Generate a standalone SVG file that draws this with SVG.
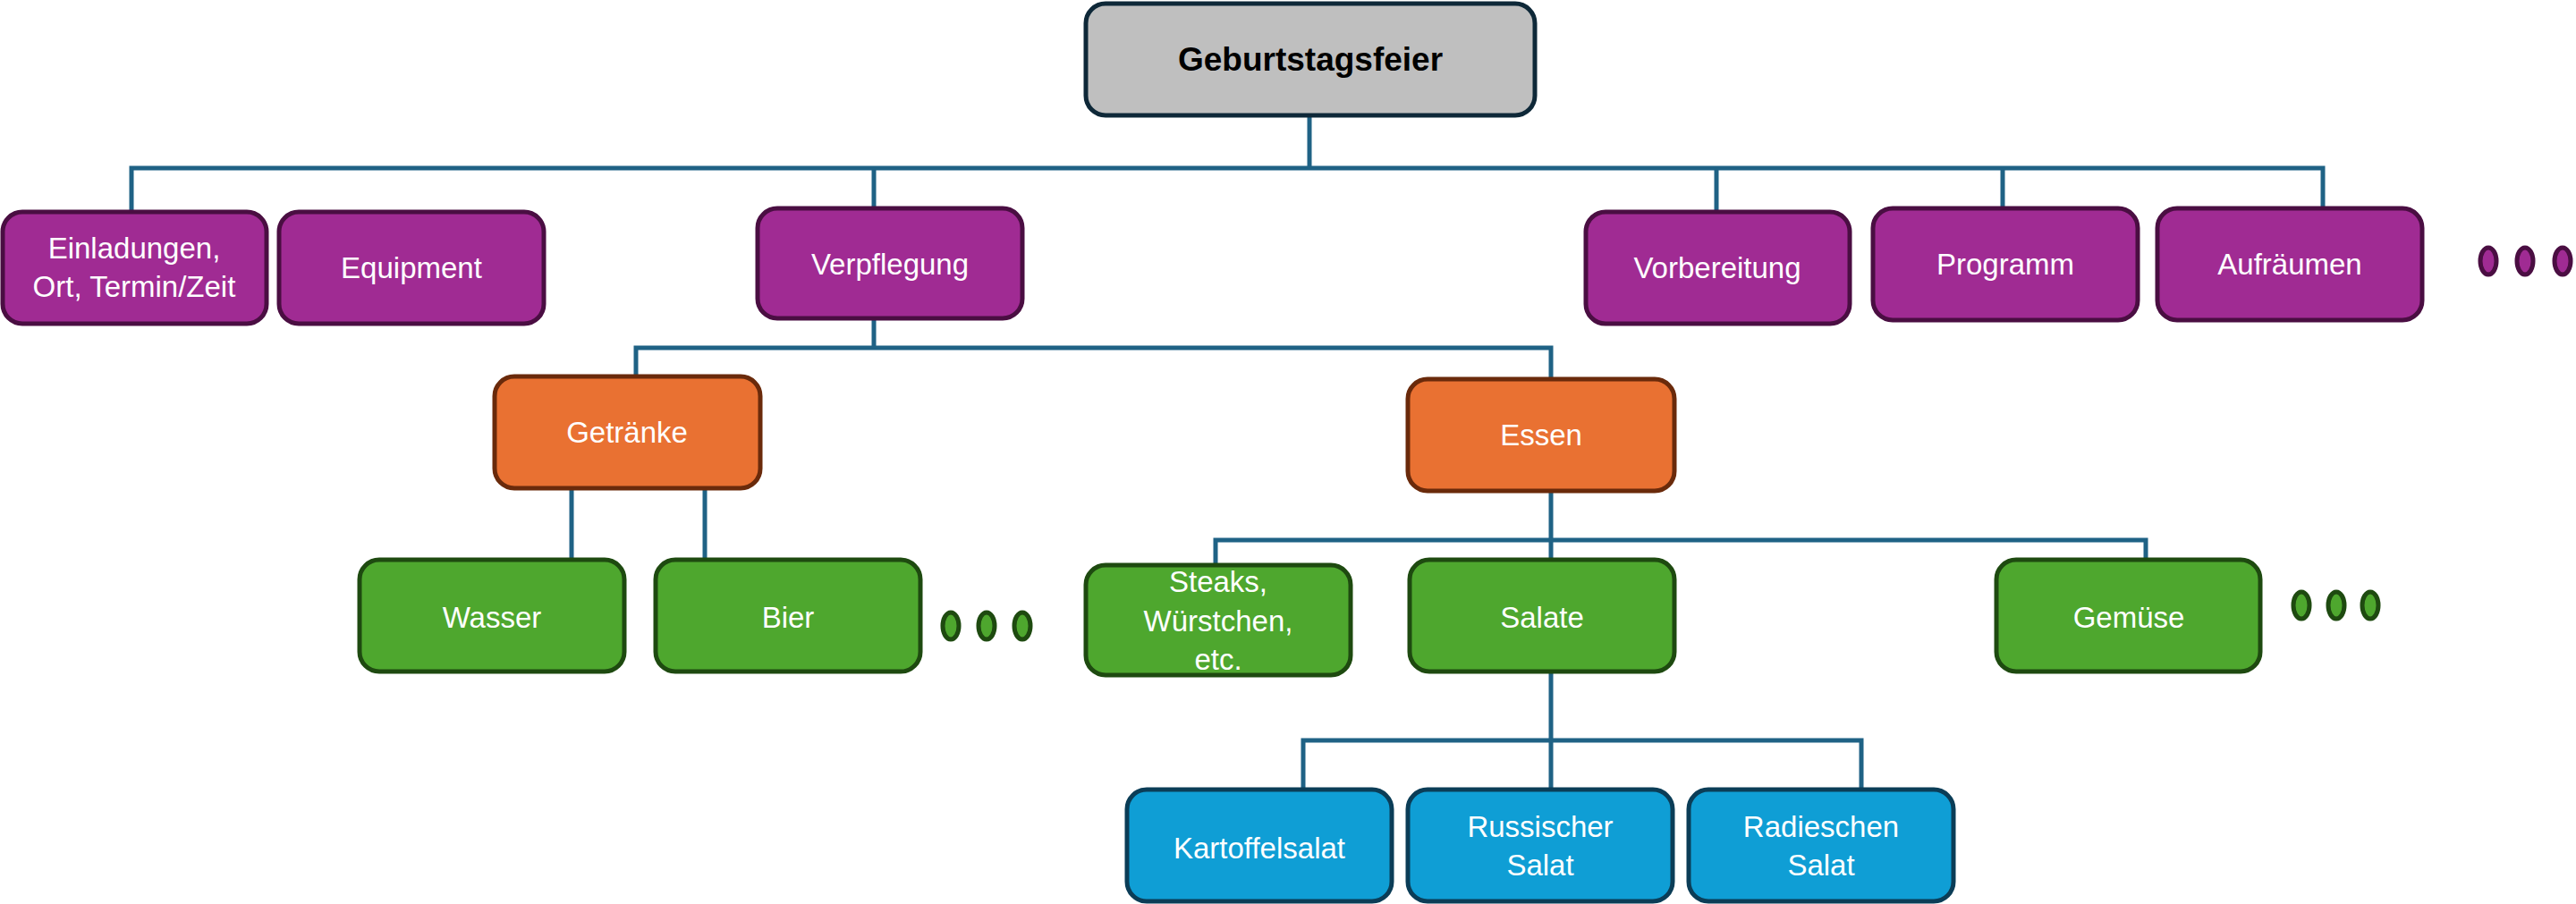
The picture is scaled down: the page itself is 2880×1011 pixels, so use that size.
<svg xmlns="http://www.w3.org/2000/svg" width="2880" height="1011" viewBox="0 0 2880 1011">
<style>
.box{stroke-width:5}
.root{fill:#BFBFBF;stroke:#0E2838}
.p{fill:#A02B93;stroke:#4A0E42}
.o{fill:#E97132;stroke:#6A2A0B}
.g{fill:#4EA72E;stroke:#1E4A10}
.b{fill:#0F9ED5;stroke:#0B3D57}
text{font-family:"Liberation Sans",Arial,sans-serif;font-size:33px;fill:#FFFFFF;text-anchor:middle;dominant-baseline:central}
.rt{font-size:37px;font-weight:bold;fill:#000000}
.con{fill:none;stroke:#1F6285;stroke-width:5}
.dp{fill:#A02B93;stroke:#4A0E42;stroke-width:5}
.dg{fill:#4EA72E;stroke:#1E4A10;stroke-width:5}
</style>
<rect width="2880" height="1011" fill="#FFFFFF"/>
<g id="connectors">
<path class="con" d="M1464 129V188M147 237V188H2597V233M977 188V233M1919 188V237M2239 188V233"/>
<path class="con" d="M977 356V389M711 421V389H1734V424"/>
<path class="con" d="M639 546V626M788 546V626"/>
<path class="con" d="M1734 549V604M1359 632V604H2399V626M1734 604V626"/>
<path class="con" d="M1734 751V828M1457 883V828H2081V883M1734 828V883"/>
</g>
<g id="n-root"><rect class="box root" x="1214" y="4" width="502" height="125" rx="22"/><text class="rt" x="1465" y="66">Geburtstagsfeier</text></g>
<g id="n-einladungen"><rect class="box p" x="3" y="237" width="295" height="125" rx="22"/><text x="150" y="277">Einladungen,</text><text x="150" y="320">Ort, Termin/Zeit</text></g>
<g id="n-equipment"><rect class="box p" x="312" y="237" width="296" height="125" rx="22"/><text x="460" y="299">Equipment</text></g>
<g id="n-verpflegung"><rect class="box p" x="847" y="233" width="296" height="123" rx="22"/><text x="995" y="295">Verpflegung</text></g>
<g id="n-vorbereitung"><rect class="box p" x="1773" y="237" width="295" height="125" rx="22"/><text x="1920" y="299">Vorbereitung</text></g>
<g id="n-programm"><rect class="box p" x="2094" y="233" width="296" height="125" rx="22"/><text x="2242" y="295">Programm</text></g>
<g id="n-aufraeumen"><rect class="box p" x="2412" y="233" width="296" height="125" rx="22"/><text x="2560" y="295">Aufräumen</text></g>
<g id="dots-1"><ellipse class="dp" cx="2782" cy="292" rx="9" ry="15"/><ellipse class="dp" cx="2823" cy="292" rx="9" ry="15"/><ellipse class="dp" cx="2865" cy="292" rx="9" ry="15"/></g>
<g id="n-getraenke"><rect class="box o" x="553" y="421" width="297" height="125" rx="22"/><text x="701" y="483">Getränke</text></g>
<g id="n-essen"><rect class="box o" x="1574" y="424" width="298" height="125" rx="22"/><text x="1723" y="486">Essen</text></g>
<g id="n-wasser"><rect class="box g" x="402" y="626" width="296" height="125" rx="22"/><text x="550" y="690">Wasser</text></g>
<g id="n-bier"><rect class="box g" x="733" y="626" width="296" height="125" rx="22"/><text x="881" y="690">Bier</text></g>
<g id="dots-2"><ellipse class="dg" cx="1063" cy="700" rx="9" ry="15"/><ellipse class="dg" cx="1103" cy="700" rx="9" ry="15"/><ellipse class="dg" cx="1143" cy="700" rx="9" ry="15"/></g>
<g id="n-steaks"><rect class="box g" x="1214" y="632" width="296" height="123" rx="22"/><text x="1362" y="650">Steaks,</text><text x="1362" y="694">Würstchen,</text><text x="1362" y="737">etc.</text></g>
<g id="n-salate"><rect class="box g" x="1576" y="626" width="296" height="125" rx="22"/><text x="1724" y="690">Salate</text></g>
<g id="n-gemuese"><rect class="box g" x="2232" y="626" width="295" height="125" rx="22"/><text x="2380" y="690">Gemüse</text></g>
<g id="dots-3"><ellipse class="dg" cx="2573" cy="677" rx="9" ry="15"/><ellipse class="dg" cx="2612" cy="677" rx="9" ry="15"/><ellipse class="dg" cx="2650" cy="677" rx="9" ry="15"/></g>
<g id="n-kartoffelsalat"><rect class="box b" x="1260" y="883" width="296" height="125" rx="22"/><text x="1408" y="948">Kartoffelsalat</text></g>
<g id="n-russischer"><rect class="box b" x="1574" y="883" width="296" height="125" rx="22"/><text x="1722" y="924">Russischer</text><text x="1722" y="967">Salat</text></g>
<g id="n-radieschen"><rect class="box b" x="1888" y="883" width="296" height="125" rx="22"/><text x="2036" y="924">Radieschen</text><text x="2036" y="967">Salat</text></g>
</svg>
